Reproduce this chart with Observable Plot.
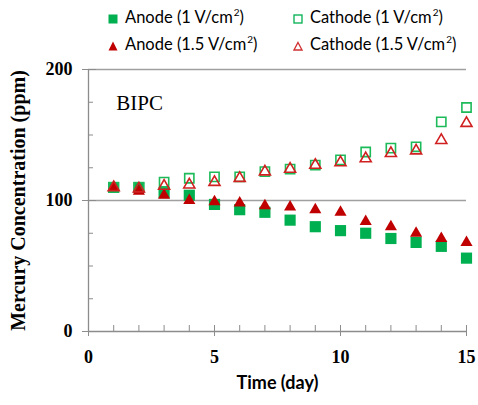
<!DOCTYPE html>
<html><head><meta charset="utf-8">
<script src="https://cdn.jsdelivr.net/npm/d3@7"></script>
<script src="https://cdn.jsdelivr.net/npm/@observablehq/plot@0.6"></script>
<style>
body{margin:0;background:#fff;width:478px;height:405px;overflow:hidden}
#legend{position:relative;height:58px;font-family:Lato,"Open Sans",sans-serif;font-size:16.5px;color:#000}
.item{position:absolute;white-space:nowrap;height:20px;line-height:20px}
.item svg{margin-right:7px;vertical-align:-1px}
.sup{font-size:10px;position:relative;top:-7px;margin-left:1px}
</style></head><body>
<div id="legend"></div>
<div id="chart"></div>
<script>
// ---- data ----
const days = [1,2,3,4,5,6,7,8,9,10,11,12,13,14,15];
const anode1V   = [110,110,106,104,97,93,91,85,80,77,75,71,68,65,56];
const cathode1V = [110,110,114,117,118,118,122,124,127,131,137,140,141,160,171];
const anode15V  = [110,107,104,100,99,98,96,95,93,91,84,80,75,71,68];
const cathode15V= [110,109,111,112,114,117,122,124,127,129,132,136,138,146,159];
const seriesNames = ["Anode (1 V/cm", "Cathode (1 V/cm", "Anode (1.5 V/cm", "Cathode (1.5 V/cm"];
const xTicks = [0,5,10,15];
const xMinor = d3.range(0,16,1);
const yTicks = [0,100,200];
const yMinor = [25,50,75,125,150,175];
const gridLines = [100,200];
const annotation = {x:1.1, y:174, text:"BIPC"};

const green = "#00B050", red = "#C00000";
const toRows = vals => days.map((d,i)=>({day:d, v:vals[i]}));

// ---- legend ----
const legendDefs = [
  {name:seriesNames[0], left:108, top:7,  marker:`<rect x="0.5" y="0.5" width="9" height="9" fill="${green}"/>`},
  {name:seriesNames[1], left:293, top:7,  marker:`<rect x="1" y="1" width="8" height="8" fill="none" stroke="${green}" stroke-width="1.3"/>`},
  {name:seriesNames[2], left:108, top:34, marker:`<path d="M5,0.5L9.5,9.5H0.5Z" fill="${red}"/>`},
  {name:seriesNames[3], left:293, top:34, marker:`<path d="M5,1.5L9,9H1Z" fill="none" stroke="#d03030" stroke-width="1.3"/>`}
];
const leg = document.getElementById("legend");
for (const d of legendDefs) {
  const el = document.createElement("div");
  el.className = "item";
  el.style.left = d.left + "px";
  el.style.top = d.top + "px";
  el.innerHTML = `<svg width="10" height="10">${d.marker}</svg>${d.name}<span class="sup">2</span>)`;
  leg.appendChild(el);
}

// ---- chart ----
const axisColor = "#8c8c8c";
const chart = Plot.plot({
  width: 478,
  height: 347,
  marginTop: 11,
  marginBottom: 74,
  marginLeft: 88,
  marginRight: 12,
  style: {fontFamily: "Liberation Serif", fontWeight: "bold", fontSize: "18px", background: "#fff"},
  x: {domain: [0,15]},
  y: {domain: [0,200]},
  marks: [
    Plot.ruleY(gridLines, {stroke: "#a0a0a0", strokeWidth: 1.5}),
    Plot.ruleX([0], {stroke: axisColor, strokeWidth: 1.3}),
    Plot.ruleY([0], {stroke: axisColor, strokeWidth: 1.3}),
    // y ticks
    Plot.axisY({ticks: yTicks, tickSize: 14, dx: 8, text: null, stroke: axisColor}),
    Plot.axisY({ticks: yMinor, tickSize: 5, dx: 5, text: null, stroke: axisColor}),
    Plot.axisY({ticks: yTicks, tickSize: 0, tickPadding: 16, label: null, fontWeight: "bold"}),
    // x ticks
    Plot.axisX({ticks: xTicks, tickSize: 10, dy: -5, text: null, stroke: axisColor}),
    Plot.axisX({ticks: xMinor, tickSize: 6, dy: -6, text: null, stroke: axisColor}),
    Plot.axisX({ticks: xTicks, tickSize: 0, tickPadding: 19, label: null, fontWeight: "bold"}),
    // axis titles
    Plot.text(["Mercury Concentration (ppm)"], {frameAnchor: "left", textAnchor: "middle", dx: -70, rotate: -90, fontSize: 20, fontWeight: "bold", fontFamily: "Liberation Serif"}),
    Plot.text(["Time (day)"], {frameAnchor: "bottom", dy: 57, fontSize: 18, fontWeight: "bold", fontFamily: "Lato"}),
    Plot.text([annotation], {x: "x", y: "y", text: "text", textAnchor: "start", fontSize: 21, fontWeight: "normal", fontFamily: "Liberation Serif"}),
    // data
    Plot.dot(toRows(anode1V), {x: "day", y: "v", symbol: "square", r: 6.3, fill: green}),
    Plot.dot(toRows(cathode1V), {x: "day", y: "v", symbol: "square", r: 5.2, fill: "none", stroke: "#1dba5a", strokeWidth: 1.6}),
    Plot.dot(toRows(anode15V), {x: "day", y: "v", symbol: "triangle", r: 4.5, fill: red}),
    Plot.dot(toRows(cathode15V), {x: "day", y: "v", symbol: "triangle", r: 4.1, fill: "none", stroke: "#d02020", strokeWidth: 1.6})
  ]
});
document.getElementById("chart").appendChild(chart);
</script>
</body></html>
